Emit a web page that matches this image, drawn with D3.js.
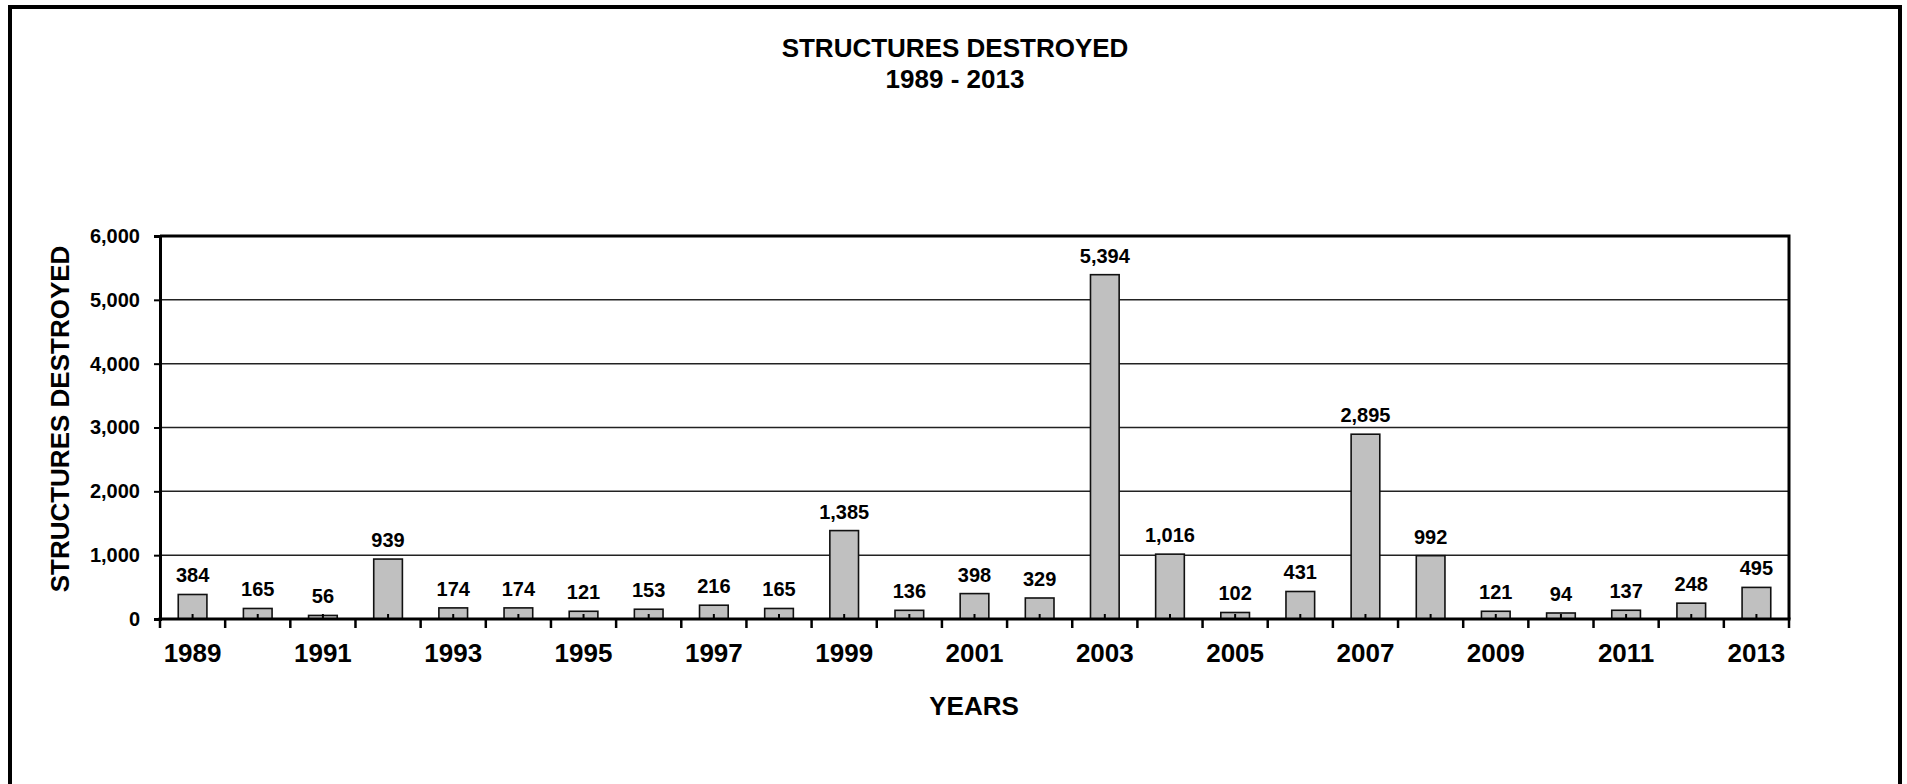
<!DOCTYPE html>
<html>
<head>
<meta charset="utf-8">
<script src="https://cdn.jsdelivr.net/npm/d3@7"></script>
<style>
html,body{margin:0;padding:0;background:#fff;}
svg{display:block;}
text{font-family:"Liberation Sans",Arial,sans-serif;font-weight:bold;fill:#000;}
</style>
</head>
<body>
<svg id="chart" width="1907" height="784"></svg>
<script>
const years = ["1989","1990","1991","1992","1993","1994","1995","1996","1997","1998","1999","2000","2001","2002","2003","2004","2005","2006","2007","2008","2009","2010","2011","2012","2013"];
const structuresDestroyed = [384,165,56,939,174,174,121,153,216,165,1385,136,398,329,5394,1016,102,431,2895,992,121,94,137,248,495];
const yTicks = [0,1000,2000,3000,4000,5000,6000];
const xLabels = ["1989","1991","1993","1995","1997","1999","2001","2003","2005","2007","2009","2011","2013"];
const titleLines = ["STRUCTURES DESTROYED","1989 - 2013"];
const yTitle = "STRUCTURES DESTROYED";
const xTitle = "YEARS";

const svg = d3.select("#chart");
const W = 1907, H = 784;
const plot = {left:160, right:1789, top:236, bottom:619};

// outer frame
svg.append("rect").attr("x",10).attr("y",7).attr("width",1890).attr("height",H+20)
  .attr("fill","none").attr("stroke","#000").attr("stroke-width",4);

// title
svg.append("text").attr("x",955).attr("y",57).attr("text-anchor","middle")
  .style("font-size","26px").text(titleLines[0]);
svg.append("text").attr("x",955).attr("y",88).attr("text-anchor","middle")
  .style("font-size","26px").text(titleLines[1]);

const xSlot = d3.scaleBand().domain(years).range([plot.left, plot.right]).padding(0);
const xBar = d3.scaleBand().domain(years).range([plot.left, plot.right]).paddingInner(0.56).paddingOuter(0.28);
const y = d3.scaleLinear().domain([0,6000]).range([plot.bottom, plot.top]);

// gridlines
svg.append("g").selectAll("line").data(yTicks.filter(d=>d>0 && d<6000)).join("line")
  .attr("x1",plot.left).attr("x2",plot.right)
  .attr("y1",d=>y(d)).attr("y2",d=>y(d))
  .attr("stroke","#222").attr("stroke-width",1.5);

// bars
svg.append("g").selectAll("rect").data(years).join("rect")
  .attr("x",(d)=>xBar(d))
  .attr("width",xBar.bandwidth())
  .attr("y",(d,i)=>y(structuresDestroyed[i]))
  .attr("height",(d,i)=>y(0)-y(structuresDestroyed[i]))
  .attr("fill","#c0c0c0").attr("stroke","#111").attr("stroke-width",1.6);

// inner minor ticks at category centres
svg.append("g").selectAll("line").data(years).join("line")
  .attr("x1",d=>xSlot(d)+xSlot.bandwidth()/2).attr("x2",d=>xSlot(d)+xSlot.bandwidth()/2)
  .attr("y1",plot.bottom).attr("y2",plot.bottom-5)
  .attr("stroke","#000").attr("stroke-width",2);

// value labels
svg.append("g").selectAll("text").data(years).join("text")
  .attr("x",d=>xSlot(d)+xSlot.bandwidth()/2)
  .attr("y",(d,i)=>y(structuresDestroyed[i])-12)
  .attr("text-anchor","middle").style("font-size","20px")
  .text((d,i)=>d3.format(",")(structuresDestroyed[i]));

// plot frame (top & right)
svg.append("path")
  .attr("d",`M${plot.left},${plot.top}H${plot.right}V${plot.bottom}`)
  .attr("fill","none").attr("stroke","#000").attr("stroke-width",3);

// y axis
const yAxis = svg.append("g").attr("transform",`translate(${plot.left},0)`)
  .call(d3.axisLeft(y).tickValues(yTicks).tickFormat(d3.format(",")).tickSize(6).tickPadding(14));
yAxis.select(".domain").attr("stroke","#000").attr("stroke-width",3);
yAxis.selectAll(".tick line").attr("stroke","#000").attr("stroke-width",2);
yAxis.selectAll(".tick text").style("font-size","20px").attr("fill","#000")
  .style("font-family","'Liberation Sans',Arial,sans-serif").style("font-weight","bold");

// x axis: ticks at category boundaries
const boundaries = years.map(d=>xSlot(d)).concat([plot.right]);
svg.append("g").selectAll("line").data(boundaries).join("line")
  .attr("x1",d=>d).attr("x2",d=>d).attr("y1",plot.bottom).attr("y2",plot.bottom+9)
  .attr("stroke","#000").attr("stroke-width",2.5);
svg.append("line").attr("x1",plot.left-1.5).attr("x2",plot.right+1.5)
  .attr("y1",plot.bottom).attr("y2",plot.bottom).attr("stroke","#000").attr("stroke-width",3);

svg.append("g").selectAll("text").data(xLabels).join("text")
  .attr("x",d=>xSlot(d)+xSlot.bandwidth()/2).attr("y",662)
  .attr("text-anchor","middle").style("font-size","26px").text(d=>d);

// axis titles
svg.append("text").attr("x",974).attr("y",715).attr("text-anchor","middle")
  .style("font-size","26px").text(xTitle);
svg.append("text").attr("transform","translate(69,419) rotate(-90)")
  .attr("text-anchor","middle").style("font-size","26px").text(yTitle);
</script>
</body>
</html>
